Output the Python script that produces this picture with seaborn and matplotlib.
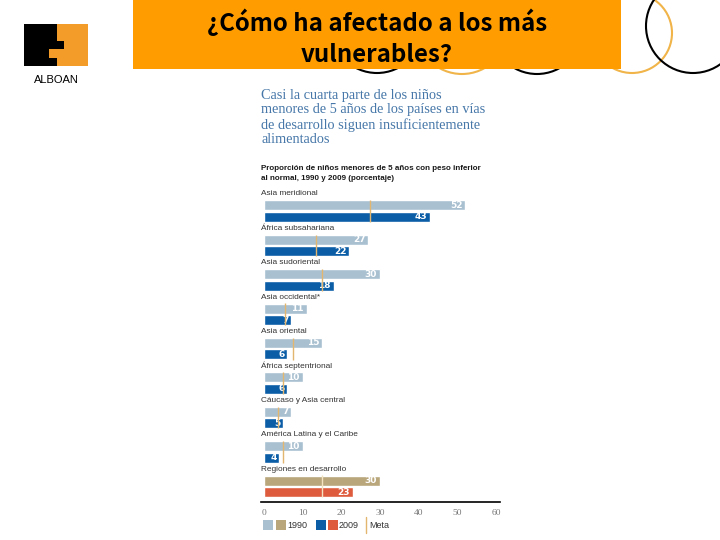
import pandas as pd
import seaborn as sns
from matplotlib import pyplot as plt
from matplotlib import font_manager
from matplotlib.patches import Rectangle, Circle

regions = ['Asia meridional', 'África subsahariana', 'Asia sudoriental', 'Asia occidental*',
           'Asia oriental', 'África septentrional', 'Cáucaso y Asia central',
           'América Latina y el Caribe', 'Regiones en desarrollo']
val_1990 = [52, 27, 30, 11, 15, 10, 7, 10, 30]
val_2009 = [43, 22, 18, 7, 6, 6, 5, 4, 23]
meta = [27.5, 13.5, 15, 5.5, 7.5, 5, 3.5, 5, 15]
ticks = [0, 10, 20, 30, 40, 50, 60]

installed = {f.name for f in font_manager.fontManager.ttflist}
narrow = 'Liberation Sans Narrow' if 'Liberation Sans Narrow' in installed else 'Liberation Sans'
nscale = 1.0 if narrow == 'Liberation Sans Narrow' else 0.85

sns.set_theme(style='white')
plt.rcParams['font.family'] = ['DejaVu Sans']

# one slot for the label, then one per year
rows, order = [], []
for i, (reg, a, b) in enumerate(zip(regions, val_1990, val_2009)):
    tag = 'd' if i == len(regions) - 1 else ''
    order += [f'{i}_label', f'{i}_1990', f'{i}_2009']
    rows.append({'slot': f'{i}_1990', 'value': a, 'serie': tag + '1990'})
    rows.append({'slot': f'{i}_2009', 'value': b, 'serie': tag + '2009'})
df = pd.DataFrame(rows)

pal = {'1990': '#A9C0D0', '2009': '#0B5DA6', 'd1990': '#B9A67B', 'd2009': '#DE5B3E'}
meta_col = '#E2B66E'

fig = plt.figure(figsize=(7.2, 5.4), dpi=100)

# slide background
bg = fig.add_axes([0, 0, 1, 1])
bg.set_xlim(0, 720)
bg.set_ylim(540, 0)
bg.axis('off')
for cx, cy, r, col in [(377, 27, 46, 'black'), (462, 28, 46, '#F0B449'), (537, 28, 46, 'black'),
                       (632, 33, 40, '#F0B449'), (693, 26, 47, 'black')]:
    bg.add_patch(Circle((cx, cy), r, fill=False, ec=col, lw=1.5, zorder=1))
bg.add_patch(Rectangle((133, 0), 488, 68.5, fc='#FF9D00', ec='none', zorder=2))
bg.text(377, 22, '¿Cómo ha afectado a los más', ha='center', va='center', fontsize=17.3,
        fontweight='bold', family=['Noto Sans CJK JP', 'DejaVu Sans'], color='black', zorder=3)
bg.text(377, 55, 'vulnerables?', ha='center', va='center', fontsize=17.3,
        fontweight='bold', family=['Noto Sans CJK JP', 'DejaVu Sans'], color='black', zorder=3)

bg.add_patch(Rectangle((24, 24), 33, 42, fc='black', ec='none'))
bg.add_patch(Rectangle((57, 24), 31, 42, fc='#F39C2A', ec='none'))
bg.add_patch(Rectangle((49, 49), 8, 9, fc='#F39C2A', ec='none'))
bg.add_patch(Rectangle((57, 41), 7, 8, fc='black', ec='none'))
bg.text(56, 80, 'ALBOAN', ha='center', va='center', fontsize=8, family='Liberation Sans', color='black')

bg.text(261, 89, 'Casi la cuarta parte de los niños\nmenores de 5 años de los países en vías\n'
        'de desarrollo siguen insuficientemente\nalimentados', ha='left', va='top',
        family='Liberation Serif', fontsize=10.3, color='#4677A8', linespacing=1.14)
bg.text(261, 165, 'Proporción de niños menores de 5 años con peso inferior\nal normal, 1990 y 2009 (porcentaje)',
        ha='left', va='top', family=narrow, fontweight='bold', fontsize=6.8 * nscale,
        linespacing=1.55, color='#1A1A1A')

# chart
ax = fig.add_axes([260.9 / 720, 0.0704, 239 / 720, 0.581])
ax.set_facecolor('none')
sns.barplot(data=df, x='value', y='slot', hue='serie', order=order,
            hue_order=['1990', '2009', 'd1990', 'd2009'], palette=pal, dodge=False,
            width=0.88, orient='h', legend=False, saturation=1, ax=ax)
ax.set_ylim(26.87, -0.5)
ax.set_xlim(-0.8, 61)

for cont in ax.containers:
    texts = ax.bar_label(cont, fmt='%d', padding=-2, color='white', fontsize=6.5, fontweight='bold')
    for t in texts:
        t.set_ha('right')

for i, m in enumerate(meta):
    col = '#F3E3C0' if i == len(meta) - 1 else meta_col
    ax.vlines(m, 3 * i + 0.55, 3 * i + 2.45, color=col, lw=1, zorder=5)

for i, reg in enumerate(regions):
    ax.text(-0.7, 3 * i, reg, ha='left', va='center', family=narrow,
            fontsize=7 * nscale, color='#333333')

sns.despine(ax=ax, left=True)
ax.set_yticks([])
ax.set_xticks(ticks)
ax.set_xticklabels([str(t) for t in ticks], family='Liberation Serif', fontsize=6.8, color='#777777')
ax.tick_params(axis='x', length=0, pad=5)
ax.spines['bottom'].set_color('black')
ax.spines['bottom'].set_linewidth(1.2)
ax.set_xlabel('')
ax.set_ylabel('')

# legend drawn by hand on the slide
for x0, key in [(263, '1990'), (276, 'd1990'), (316, '2009'), (328, 'd2009')]:
    bg.add_patch(Rectangle((x0, 520), 9.5, 10, fc=pal[key], ec='none'))
bg.text(287, 525, '1990', ha='left', va='center', family=narrow, fontsize=7.6 * nscale, color='#333333')
bg.text(339, 525, '2009', ha='left', va='center', family=narrow, fontsize=7.6 * nscale, color='#333333')
bg.plot([365.5, 365.5], [517, 533], color=meta_col, lw=1)
bg.text(369, 525, 'Meta', ha='left', va='center', family=narrow, fontsize=7.6 * nscale, color='#333333')

fig.savefig('out.png', dpi=100)
